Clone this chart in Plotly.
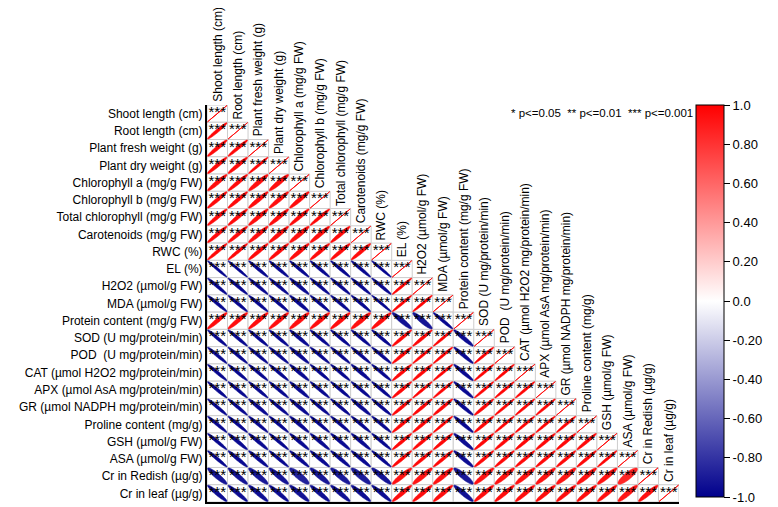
import numpy as np
import plotly.graph_objects as go
from plotly.colors import sample_colorscale

labels = ["Shoot length (cm)", "Root length (cm)", "Plant fresh weight (g)", "Plant dry weight (g)",
          "Chlorophyll a (mg/g FW)", "Chlorophyll b (mg/g FW)", "Total chlorophyll (mg/g FW)",
          "Carotenoids (mg/g FW)", "RWC (%)", "EL (%)", "H2O2 (µmol/g FW)", "MDA (µmol/g FW)",
          "Protein content (mg/g FW)", "SOD (U mg/protein/min)", "POD  (U mg/protein/min)",
          "CAT (µmol H2O2 mg/protein/min)", "APX (µmol AsA mg/protein/min)",
          "GR (µmol NADPH mg/protein/min)", "Proline content (mg/g)", "GSH (µmol/g FW)",
          "ASA (µmol/g FW)", "Cr in Redish (µg/g)", "Cr in leaf (µg/g)"]

# lower-triangle correlations, row i holds r(i, 0..i-1)
r01 = [0.97]
r02 = [0.96, 0.97]
r03 = [0.96, 0.96, 0.98]
r04 = [0.95, 0.96, 0.94, 0.94]
r05 = [0.96, 0.96, 0.95, 0.95, 0.95]
r06 = [0.96, 0.96, 0.95, 0.95, 0.96, 0.97]
r07 = [0.96, 0.96, 0.95, 0.95, 0.94, 0.95, 0.96]
r08 = [0.97, 0.97, 0.96, 0.96, 0.95, 0.96, 0.96, 0.96]
r09 = [-0.98, -0.98, -0.97, -0.97, -0.97, -0.97, -0.97, -0.97, -0.98]
r10 = [-0.97, -0.97, -0.97, -0.97, -0.96, -0.97, -0.97, -0.97, -0.97, 0.98]
r11 = [-0.97, -0.97, -0.97, -0.97, -0.96, -0.97, -0.97, -0.97, -0.98, 0.98, 0.98]
r12 = [0.95, 0.95, 0.95, 0.95, 0.94, 0.95, 0.95, 0.94, 0.95, -0.93, -0.92, -0.97]
r13 = [-0.97, -0.97, -0.97, -0.97, -0.96, -0.97, -0.97, -0.97, -0.97, 0.97, 0.97, 0.98, -0.95]
r14 = [-0.97, -0.97, -0.97, -0.97, -0.96, -0.97, -0.97, -0.97, -0.97, 0.97, 0.98, 0.98, -0.96, 0.98]
r15 = [-0.97, -0.97, -0.97, -0.97, -0.96, -0.97, -0.97, -0.96, -0.97, 0.97, 0.97, 0.98, -0.96, 0.98, 0.98]
r16 = [-0.97, -0.97, -0.97, -0.97, -0.96, -0.97, -0.97, -0.97, -0.97, 0.97, 0.98, 0.98, -0.96, 0.98, 0.98, 0.98]
r17 = [-0.97, -0.97, -0.96, -0.97, -0.96, -0.97, -0.97, -0.96, -0.97, 0.97, 0.97, 0.97, -0.96, 0.97, 0.98, 0.98, 0.98]
r18 = [-0.97, -0.97, -0.97, -0.97, -0.96, -0.97, -0.97, -0.97, -0.97, 0.97, 0.97, 0.98, -0.96, 0.97, 0.98, 0.98, 0.98, 0.98]
r19 = [-0.97, -0.96, -0.96, -0.97, -0.96, -0.96, -0.96, -0.96, -0.97, 0.97, 0.97, 0.97, -0.95, 0.97, 0.97, 0.97, 0.97, 0.97, 0.97]
r20 = [-0.97, -0.96, -0.96, -0.97, -0.96, -0.96, -0.96, -0.96, -0.97, 0.97, 0.97, 0.97, -0.95, 0.97, 0.97, 0.97, 0.97, 0.97, 0.97, 0.98]
r21 = [-0.92, -0.93, -0.91, -0.92, -0.87, -0.91, -0.90, -0.89, -0.92, 0.93, 0.92, 0.93, -0.90, 0.93, 0.93, 0.93, 0.93, 0.92, 0.93, 0.93, 0.85]
r22 = [-0.95, -0.95, -0.94, -0.95, -0.93, -0.94, -0.94, -0.94, -0.95, 0.95, 0.95, 0.95, -0.93, 0.95, 0.95, 0.95, 0.95, 0.95, 0.95, 0.95, 0.92, 0.94]
rows = [[], r01, r02, r03, r04, r05, r06, r07, r08, r09, r10, r11, r12, r13, r14, r15, r16,
        r17, r18, r19, r20, r21, r22]

sig_text = "***"
legend_text = "* p<=0.05  ** p<=0.01  *** p<=0.001"
cb_vals = [-1, -0.8, -0.6, -0.4, -0.2, 0, 0.2, 0.4, 0.6, 0.8, 1]
cb_text = ["-1.0", "-0.80", "-0.60", "-0.40", "-0.20", "0.0", "0.20", "0.40", "0.60", "0.80", "1.0"]

cscale = [[0, "rgb(0,0,140)"], [0.5, "rgb(255,255,255)"], [1, "rgb(255,0,0)"]]
n = len(labels)

shapes = []
# cell backgrounds
for i in range(n):
    for j in range(i + 1):
        shapes.append(dict(type="rect", xref="x", yref="y", x0=j - 0.5, x1=j + 0.5,
                           y0=i - 0.5, y1=i + 0.5, line=dict(color="rgb(205,205,205)", width=1),
                           fillcolor="white", layer="below"))

k = np.linspace(0, 2 * np.pi, 60)
scale = 0.95
for i in range(n):
    vals = rows[i] + [1.0]
    for j, r in enumerate(vals):
        col = sample_colorscale(cscale, [(r + 1) / 2])[0]
        a = np.arccos(np.clip(r, -1, 1)) / 2
        ex = np.cos(k + a) / 2 * scale
        ey = np.cos(k - a) / 2 * scale
        px = j + ex
        py = i - ey
        path = "M " + " L ".join(f"{x:.4f},{y:.4f}" for x, y in zip(px, py)) + " Z"
        shapes.append(dict(type="path", xref="x", yref="y", path=path,
                           fillcolor=col, line=dict(color=col, width=1 if j == i else 0.5),
                           layer="below"))

fig = go.Figure()

sx, sy = [], []
for i in range(n):
    for j in range(i + 1):
        sx.append(j)
        sy.append(i - 0.02)
fig.add_trace(go.Scatter(x=sx, y=sy, mode="text", text=[sig_text] * len(sx),
                         textfont=dict(size=15, color="black", family="Liberation Sans, Arial"),
                         hoverinfo="skip", showlegend=False))

fig.add_trace(go.Scatter(x=[0], y=[0], mode="markers", hoverinfo="skip", showlegend=False,
                         marker=dict(size=0.001, color=[0], colorscale=cscale, cmin=-1, cmax=1,
                                     showscale=True,
                                     colorbar=dict(x=1.0143, xanchor="left", y=1.0, yanchor="top",
                                                   len=392, lenmode="pixels", thickness=28, ypad=0,
                                                   outlinecolor="black", outlinewidth=1,
                                                   ticks="outside", ticklen=6, tickcolor="black",
                                                   tickvals=cb_vals, ticktext=cb_text,
                                                   ticklabeloverflow="allow",
                                                   tickfont=dict(size=13, color="black")))))

annotations = []
for j, lab in enumerate(labels):
    annotations.append(dict(x=j, y=j - 0.5, xref="x", yref="y", text=lab, textangle=-90,
                            xanchor="center", yanchor="bottom", showarrow=False, yshift=1,
                            font=dict(size=12, color="black")))
annotations.append(dict(x=1, y=0.98, xref="paper", yref="paper", text=legend_text,
                        xanchor="right", yanchor="middle", showarrow=False, xshift=16,
                        font=dict(size=11.5, color="black")))

fig.update_layout(
    width=770, height=499,
    margin=dict(l=199, r=81, t=97, b=5),
    paper_bgcolor="white", plot_bgcolor="white",
    font=dict(family="Liberation Sans, Arial", color="black"),
    shapes=shapes, annotations=annotations, showlegend=False,
    xaxis=dict(range=[-0.5, n - 0.5], showgrid=False, zeroline=False, showticklabels=False,
               ticks="", showline=True, linecolor="black", linewidth=2, fixedrange=True),
    yaxis=dict(range=[n - 0.5, -0.5], showgrid=False, zeroline=False, tickmode="array",
               tickvals=list(range(n)), ticktext=labels, ticks="", showline=True,
               linecolor="black", linewidth=2, tickfont=dict(size=12, color="black"),
               fixedrange=True),
)

fig.write_html("out.html")
